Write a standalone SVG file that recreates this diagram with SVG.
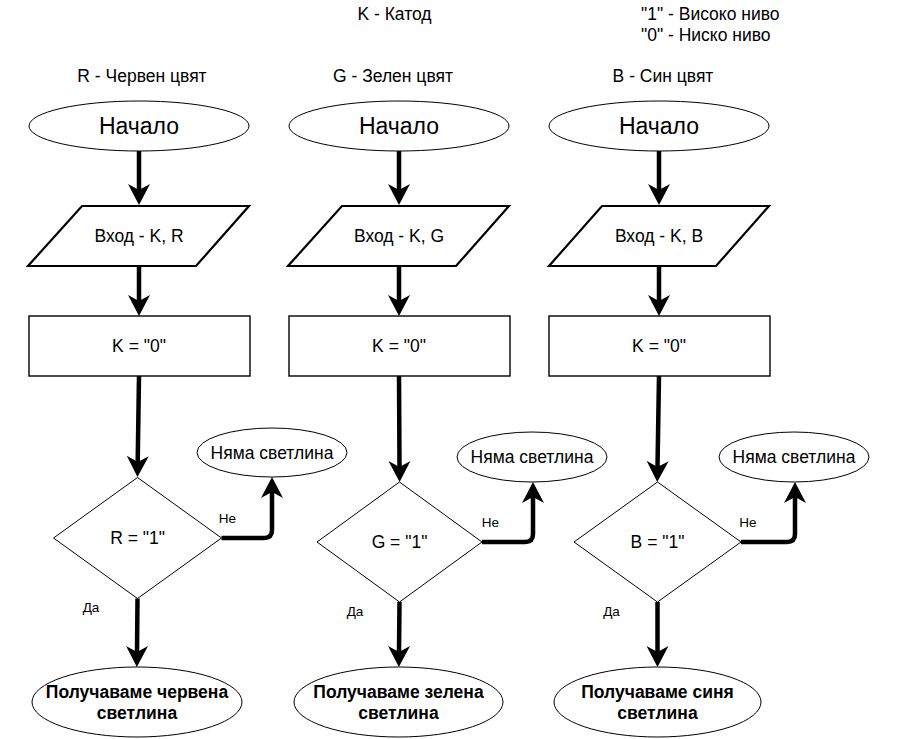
<svg xmlns="http://www.w3.org/2000/svg" width="899" height="739" viewBox="0 0 899 739">
<style>
text{font-family:"Liberation Sans",Arial,sans-serif;fill:#000;}
.t{font-size:17.5px;text-anchor:middle;}
.tl{font-size:17.5px;}
.big{font-size:23px;text-anchor:middle;}
.b{font-size:17.5px;font-weight:bold;text-anchor:middle;}
.s{font-size:13.5px;text-anchor:middle;}
.el{fill:#fff;stroke:#000;stroke-width:1;}
.par{fill:#fff;stroke:#000;stroke-width:2.2;}
.rc{fill:#fff;stroke:#000;stroke-width:1.4;}
.dm{fill:#fff;stroke:#000;stroke-width:1;}
.c{fill:none;stroke:#000;stroke-width:4.5;marker-end:url(#ah);}
</style>
<defs>
<marker id="ah" viewBox="-7 -12 23 24" refX="0" refY="0" markerWidth="23" markerHeight="24" markerUnits="userSpaceOnUse" orient="auto">
<path d="M15,0 L-6,-11 L0,0 L-6,11 Z" fill="#000"/>
</marker>
</defs>
<rect width="899" height="739" fill="#fff"/>
<g id="legend">
<text class="t" x="394.5" y="19.5">K - Катод</text>
<text class="tl" x="641" y="19.5">"1" - Високо ниво</text>
<text class="tl" x="641" y="40.5">"0" - Ниско ниво</text>
<text class="t" x="142" y="82">R - Червен цвят</text>
<text class="t" x="393" y="82">G - Зелен цвят</text>
<text class="t" x="663" y="82">B - Син цвят</text>
</g>
<g id="connectors">
<path class="c" d="M139,151 V190"/>
<path class="c" d="M139,266 V301"/>
<path class="c" d="M139,376 L137.7,462"/>
<path class="c" d="M137.5,598.5 L137,652"/>
<path class="c" d="M221.5,538 H264 Q272,538 272,530 V492"/>
<path class="c" d="M399,151 V190"/>
<path class="c" d="M399,266 V301"/>
<path class="c" d="M399,376 L399.5,467"/>
<path class="c" d="M399.5,602 L399,652"/>
<path class="c" d="M482,542 H525 Q533,542 533,534 V497"/>
<path class="c" d="M659,151 V190"/>
<path class="c" d="M659,266 V301"/>
<path class="c" d="M659,376 L657.5,467"/>
<path class="c" d="M657.5,602 V652"/>
<path class="c" d="M741,542 H787 Q795,542 795,534 V497"/>
<text class="s" x="227.5" y="523">Не</text>
<text class="s" x="91" y="612">Да</text>
<text class="s" x="490.5" y="527">Не</text>
<text class="s" x="355" y="616">Да</text>
<text class="s" x="748" y="527">Не</text>
<text class="s" x="611.5" y="616">Да</text>
</g>
<g id="start-r"><ellipse class="el" cx="139" cy="126" rx="110" ry="25"/><text class="big" x="139" y="134">Начало</text></g>
<g id="input-r"><polygon class="par" points="82,206 249,206 196,266 28,266"/><text class="t" x="139" y="242">Вход - K, R</text></g>
<g id="proc-r"><rect class="rc" x="29" y="316" width="221" height="60"/><text class="t" x="139" y="352">K = "0"</text></g>
<g id="dec-r"><polygon class="dm" points="137.5,477.5 221.5,538 137.5,598.5 53.5,538"/><text class="t" x="137.5" y="544">R = "1"</text></g>
<g id="nolight-r"><ellipse class="el" cx="272" cy="452.5" rx="75" ry="24.5"/><text class="t" x="272" y="458.5">Няма светлина</text></g>
<g id="end-r"><ellipse class="el" cx="137" cy="702" rx="105" ry="35"/><text class="b" x="137" y="698">Получаваме червена</text><text class="b" x="137" y="719">светлина</text></g>
<g id="start-g"><ellipse class="el" cx="399" cy="126" rx="110" ry="25"/><text class="big" x="399" y="134">Начало</text></g>
<g id="input-g"><polygon class="par" points="342,206 509,206 456,266 288,266"/><text class="t" x="399" y="242">Вход - K, G</text></g>
<g id="proc-g"><rect class="rc" x="289" y="316" width="221" height="60"/><text class="t" x="399" y="352">K = "0"</text></g>
<g id="dec-g"><polygon class="dm" points="399.5,482 482,542 399.5,602 317,542"/><text class="t" x="399.5" y="548">G = "1"</text></g>
<g id="nolight-g"><ellipse class="el" cx="532" cy="457" rx="75" ry="25"/><text class="t" x="532" y="463">Няма светлина</text></g>
<g id="end-g"><ellipse class="el" cx="398.5" cy="702" rx="104.5" ry="35"/><text class="b" x="398.5" y="698">Получаваме зелена</text><text class="b" x="398.5" y="719">светлина</text></g>
<g id="start-b"><ellipse class="el" cx="659" cy="126" rx="110" ry="25"/><text class="big" x="659" y="134">Начало</text></g>
<g id="input-b"><polygon class="par" points="602,206 769,206 716,266 549,266"/><text class="t" x="659" y="242">Вход - K, B</text></g>
<g id="proc-b"><rect class="rc" x="549" y="316" width="221" height="60"/><text class="t" x="659" y="352">K = "0"</text></g>
<g id="dec-b"><polygon class="dm" points="657.5,482 741,542 657.5,602 574,542"/><text class="t" x="657.5" y="548">B = "1"</text></g>
<g id="nolight-b"><ellipse class="el" cx="794" cy="457" rx="75" ry="25"/><text class="t" x="794" y="463">Няма светлина</text></g>
<g id="end-b"><ellipse class="el" cx="657.5" cy="702" rx="103.5" ry="35"/><text class="b" x="657.5" y="698">Получаваме синя</text><text class="b" x="657.5" y="719">светлина</text></g>
</svg>
